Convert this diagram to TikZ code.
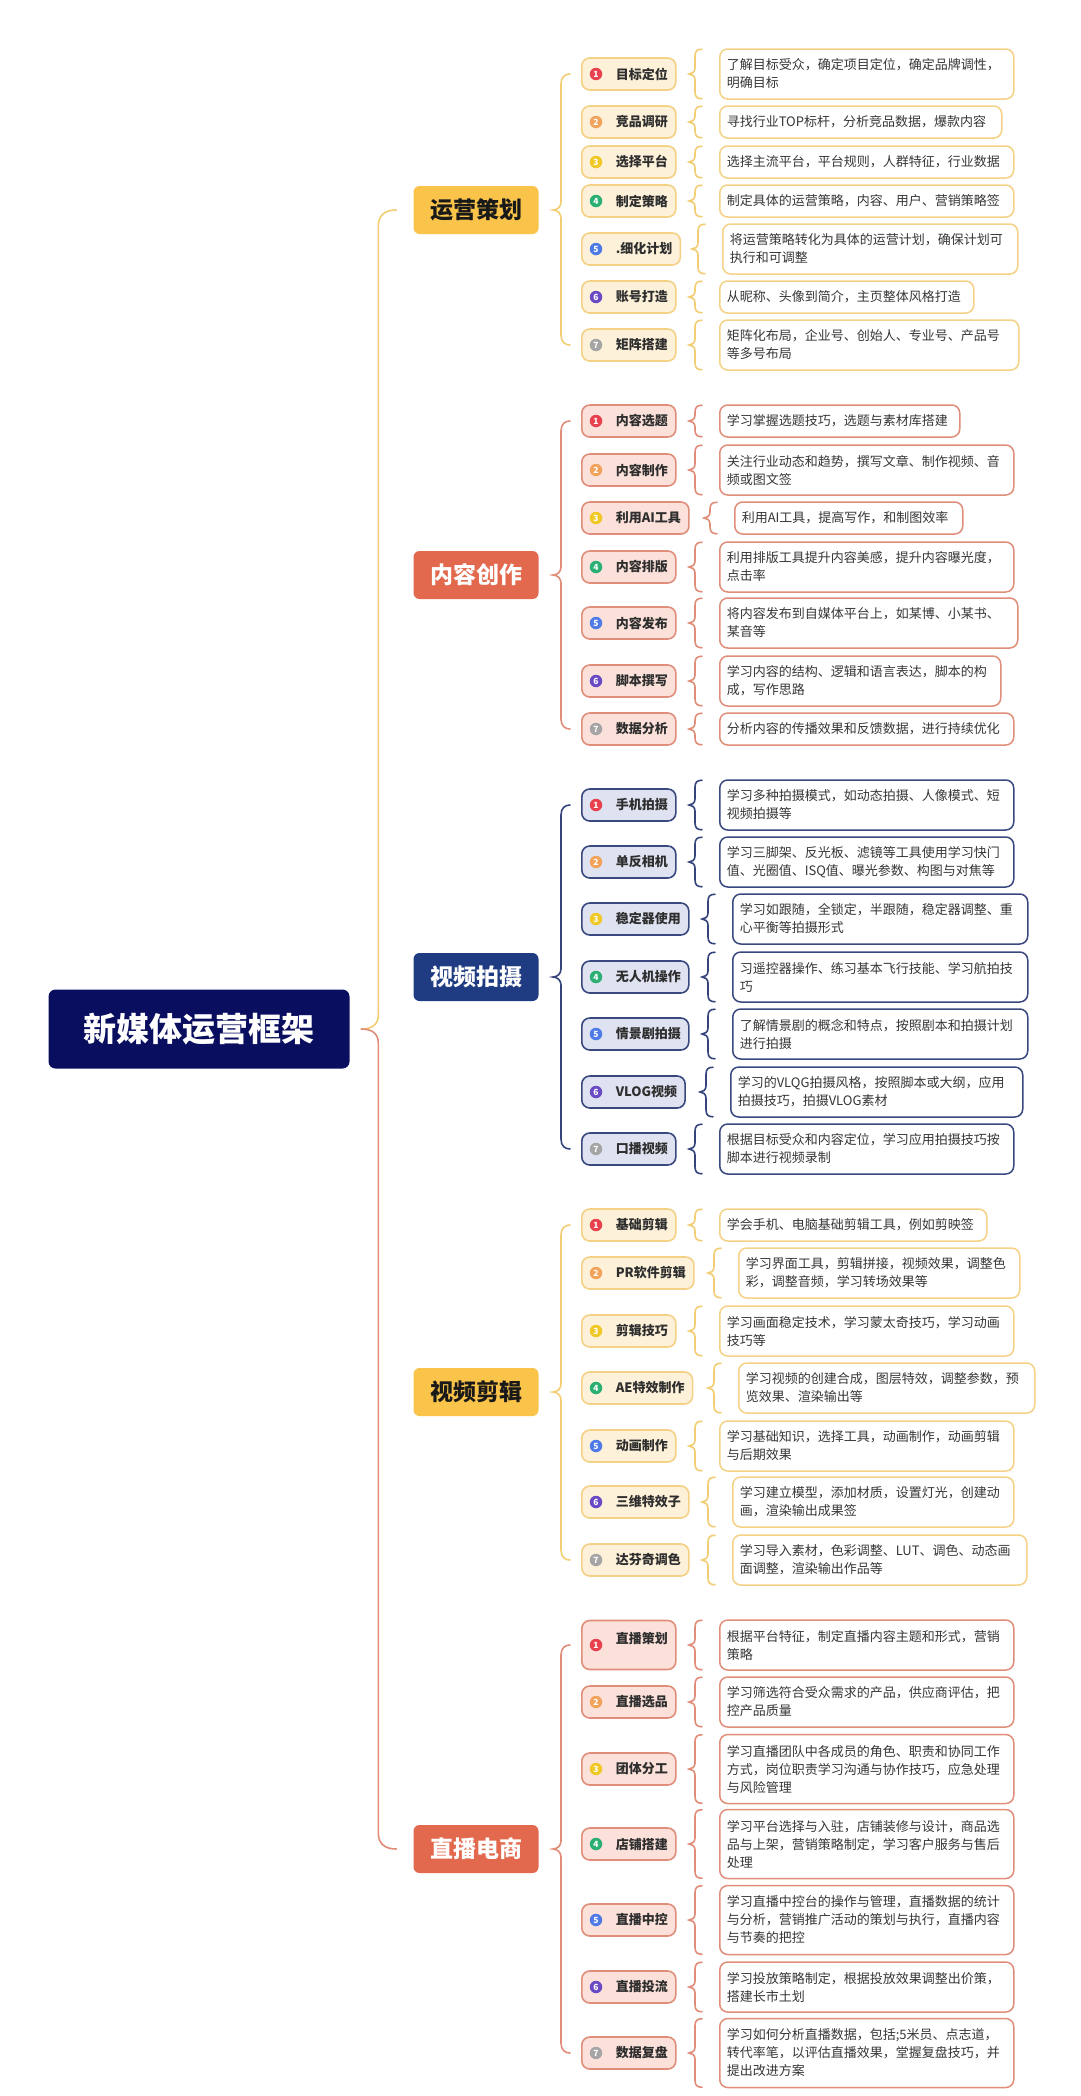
\documentclass[tikz,border=0pt]{standalone}
\usepackage{fontspec}
\setmainfont{Noto Sans CJK SC}
\usetikzlibrary{calc}
\definecolor{rootc}{HTML}{0A0E5E}
\definecolor{ybr}{HTML}{FAC44B}
\definecolor{yln}{HTML}{F3CD72}
\definecolor{yif}{HTML}{FDF1D9}
\definecolor{yib}{HTML}{F4D184}
\definecolor{sbr}{HTML}{E3694E}
\definecolor{sln}{HTML}{E08C78}
\definecolor{sif}{HTML}{FBE1DA}
\definecolor{sib}{HTML}{E08E7A}
\definecolor{nbr}{HTML}{1F3C82}
\definecolor{nln}{HTML}{36447C}
\definecolor{nif}{HTML}{DFE3F1}
\definecolor{nib}{HTML}{3A4880}
\definecolor{labc}{HTML}{2E2E2E}
\definecolor{descc}{HTML}{363636}
\definecolor{n1}{HTML}{E8424F}
\definecolor{n2}{HTML}{F2A45C}
\definecolor{n3}{HTML}{F0C828}
\definecolor{n4}{HTML}{2BAF73}
\definecolor{n5}{HTML}{4E7BE5}
\definecolor{n6}{HTML}{6B4BC4}
\definecolor{n7}{HTML}{A5A5A5}
\tikzset{
  rootbox/.style={rounded corners=7, fill=rootc, text=white, minimum width=301, minimum height=79, inner sep=0,
    font=\fontsize{33}{36}\selectfont\bfseries},
  brbox/.style={rounded corners=6, minimum width=125, minimum height=48, inner sep=0,
    font=\fontsize{23}{26}\selectfont\bfseries},
  ybr/.style={brbox, fill=ybr, text=black!90},
  sbr/.style={brbox, fill=sbr, text=white},
  nbr/.style={brbox, fill=nbr, text=white},
  itembox/.style={rounded corners=8, line width=1.6, minimum height=32, inner xsep=8, inner ysep=2,
    anchor=west, text=labc, font=\fontsize{13}{15}\selectfont\bfseries},
  yit/.style={itembox, draw=yib, fill=yif},
  sit/.style={itembox, draw=sib, fill=sif},
  nit/.style={itembox, draw=nib, fill=nif},
  num/.style={circle, minimum size=12.5, inner sep=0, text=white, font=\fontsize{8.5}{9}\selectfont\bfseries},
  desc/.style={rounded corners=8, line width=1.5, fill=white, anchor=west, align=left, inner xsep=7,
    inner ysep=3, text=descc, font=\fontsize{13}{18}\selectfont},
  yd/.style={desc, draw=yib},
  sd/.style={desc, draw=sib},
  nd/.style={desc, draw=nib},
  brl/.style={line width=1.6, line cap=round},
}
% item: name, style, y, number, label
\newcommand\itm[5]{%
  \node[#2] (#1) at (581,#3) {\hspace*{26pt}#5};
  \node[num, fill=n#4] (#1n) at ([xshift=15pt]#1.west) {#4};
}
% desc: name, style, left, y, text width, min height, text
\newcommand\dsc[7]{%
  \node[#2, text width=#5pt, minimum height=#6pt] (#1) at (#3,#4) {#7};
}
% small brace: desc node, item node, colour
\newcommand\dbr[3]{%
  \draw[brl, #3] let \p1=(#2.east), \p2=(#1.north west), \p3=(#1.south west) in
  (\x2-17,\y2-1) .. controls (\x2-22,\y2-1) and (\x2-24,\y2-3) .. (\x2-24,\y2-8)
  -- (\x2-24,\y1+6) .. controls (\x2-24,\y1+2) and (\x2-27,\y1) .. (\x2-30,\y1)
  .. controls (\x2-27,\y1) and (\x2-24,\y1-2) .. (\x2-24,\y1-6)
  -- (\x2-24,\y3+8) .. controls (\x2-24,\y3+3) and (\x2-22,\y3+1) .. (\x2-17,\y3+1);
}
% big brace: branch, first item, last item, colour
\newcommand\bbr[4]{%
  \draw[brl, #4] let \p1=(#1.east), \p2=(#2.west), \p3=(#3.west) in
  (\x2-11,\y2) .. controls (\x2-16,\y2) and (\x2-20,\y2-3) .. (\x2-20,\y2-10)
  -- (\x2-20,\y1+8) .. controls (\x2-20,\y1+3) and (\x2-24,\y1) .. (\x2-28,\y1)
  .. controls (\x2-24,\y1) and (\x2-20,\y1-3) .. (\x2-20,\y1-8)
  -- (\x2-20,\y3+10) .. controls (\x2-20,\y3+3) and (\x2-16,\y3) .. (\x2-11,\y3);
}
\begin{document}
\begin{tikzpicture}[x=1pt,y=-1pt]
\fill[white] (0,0) rectangle (1080,2096);
\useasboundingbox (0,0) rectangle (1080,2096);

\node[rootbox] (root) at (199,1029) {新媒体运营框架};
\node[ybr] (b1) at (476,210) {运营策划};
\node[sbr] (b2) at (476,575) {内容创作};
\node[nbr] (b3) at (476,977) {视频拍摄};
\node[ybr] (b4) at (476,1392) {视频剪辑};
\node[sbr] (b5) at (476,1849) {直播电商};

% trunk brace
\draw[brl, yln] let \p1=(root.east), \p2=(b1.west) in
  (\x2-17,\y2) .. controls (\x2-28,\y2) and (\x2-35,\y2-5) .. (\x2-35,\y2-16)
  -- (\x2-35,\y1+14) .. controls (\x2-35,\y1+4) and (\x2-42,\y1) .. (\x2-52,\y1);
\draw[brl, sln] let \p1=(root.east), \p2=(b5.west) in
  (\x2-52,\y1) .. controls (\x2-42,\y1) and (\x2-35,\y1-4) .. (\x2-35,\y1-14)
  -- (\x2-35,\y2+16) .. controls (\x2-35,\y2+5) and (\x2-28,\y2) .. (\x2-17,\y2);

% ===== 运营策划 =====
\itm{a1}{yit}{74}{1}{目标定位}
\itm{a2}{yit}{122}{2}{竞品调研}
\itm{a3}{yit}{162}{3}{选择平台}
\itm{a4}{yit}{201}{4}{制定策略}
\itm{a5}{yit}{249}{5}{.细化计划}
\itm{a6}{yit}{297}{6}{账号打造}
\itm{a7}{yit}{345}{7}{矩阵搭建}
\dsc{ad1}{yd}{719}{74}{280}{50}{了解目标受众，确定项目定位，确定品牌调性，\\明确目标}
\dsc{ad2}{yd}{719}{122}{268}{32}{寻找行业TOP标杆，分析竞品数据，爆款内容}
\dsc{ad3}{yd}{719}{162}{280}{32}{选择主流平台，平台规则，人群特征，行业数据}
\dsc{ad4}{yd}{719}{201}{280}{32}{制定具体的运营策略，内容、用户、营销策略签}
\dsc{ad5}{yd}{722}{249}{281}{50}{将运营策略转化为具体的运营计划，确保计划可\\执行和可调整}
\dsc{ad6}{yd}{719}{297}{240}{32}{从昵称、头像到简介，主页整体风格打造}
\dsc{ad7}{yd}{719}{345}{285}{50}{矩阵化布局，企业号、创始人、专业号、产品号\\等多号布局}
\bbr{b1}{a1}{a7}{yln}
\dbr{ad1}{a1}{yln}\dbr{ad2}{a2}{yln}\dbr{ad3}{a3}{yln}\dbr{ad4}{a4}{yln}
\dbr{ad5}{a5}{yln}\dbr{ad6}{a6}{yln}\dbr{ad7}{a7}{yln}

% ===== 内容创作 =====
\itm{c1}{sit}{421}{1}{内容选题}
\itm{c2}{sit}{470}{2}{内容制作}
\itm{c3}{sit}{518}{3}{利用AI工具}
\itm{c4}{sit}{567}{4}{内容排版}
\itm{c5}{sit}{623}{5}{内容发布}
\itm{c6}{sit}{681}{6}{脚本撰写}
\itm{c7}{sit}{729}{7}{数据分析}
\dsc{cd1}{sd}{719}{421}{226}{32}{学习掌握选题技巧，选题与素材库搭建}
\dsc{cd2}{sd}{719}{470}{280}{50}{关注行业动态和趋势，撰写文章、制作视频、音\\频或图文签}
\dsc{cd3}{sd}{734}{518}{214}{32}{利用AI工具，提高写作，和制图效率}
\dsc{cd4}{sd}{719}{567}{280}{50}{利用排版工具提升内容美感，提升内容曝光度，\\点击率}
\dsc{cd5}{sd}{719}{623}{284}{50}{将内容发布到自媒体平台上，如某博、小某书、\\某音等}
\dsc{cd6}{sd}{719}{681}{267}{50}{学习内容的结构、逻辑和语言表达，脚本的构\\成，写作思路}
\dsc{cd7}{sd}{719}{729}{280}{32}{分析内容的传播效果和反馈数据，进行持续优化}
\bbr{b2}{c1}{c7}{sln}
\dbr{cd1}{c1}{sln}\dbr{cd2}{c2}{sln}\dbr{cd3}{c3}{sln}\dbr{cd4}{c4}{sln}
\dbr{cd5}{c5}{sln}\dbr{cd6}{c6}{sln}\dbr{cd7}{c7}{sln}

% ===== 视频拍摄 =====
\itm{v1}{nit}{805}{1}{手机拍摄}
\itm{v2}{nit}{862}{2}{单反相机}
\itm{v3}{nit}{919}{3}{稳定器使用}
\itm{v4}{nit}{977}{4}{无人机操作}
\itm{v5}{nit}{1034}{5}{情景剧拍摄}
\itm{v6}{nit}{1092}{6}{VLOG视频}
\itm{v7}{nit}{1149}{7}{口播视频}
\dsc{vd1}{nd}{719}{805}{280}{50}{学习多种拍摄模式，如动态拍摄、人像模式、短\\视频拍摄等}
\dsc{vd2}{nd}{719}{862}{280}{50}{学习三脚架、反光板、滤镜等工具使用学习快门\\值、光圈值、ISQ值、曝光参数、构图与对焦等}
\dsc{vd3}{nd}{732}{919}{281}{50}{学习如跟随，全锁定，半跟随，稳定器调整、重\\心平衡等拍摄形式}
\dsc{vd4}{nd}{732}{977}{281}{50}{习遥控器操作、练习基本飞行技能、学习航拍技\\巧}
\dsc{vd5}{nd}{732}{1034}{281}{50}{了解情景剧的概念和特点，按照剧本和拍摄计划\\进行拍摄}
\dsc{vd6}{nd}{730}{1092}{278}{50}{学习的VLQG拍摄风格，按照脚本或大纲，应用\\拍摄技巧，拍摄VLOG素材}
\dsc{vd7}{nd}{719}{1149}{280}{50}{根据目标受众和内容定位，学习应用拍摄技巧按\\脚本进行视频录制}
\bbr{b3}{v1}{v7}{nln}
\dbr{vd1}{v1}{nln}\dbr{vd2}{v2}{nln}\dbr{vd3}{v3}{nln}\dbr{vd4}{v4}{nln}
\dbr{vd5}{v5}{nln}\dbr{vd6}{v6}{nln}\dbr{vd7}{v7}{nln}

% ===== 视频剪辑 =====
\itm{e1}{yit}{1225}{1}{基础剪辑}
\itm{e2}{yit}{1273}{2}{PR软件剪辑}
\itm{e3}{yit}{1331}{3}{剪辑技巧}
\itm{e4}{yit}{1388}{4}{AE特效制作}
\itm{e5}{yit}{1446}{5}{动画制作}
\itm{e6}{yit}{1502}{6}{三维特效子}
\itm{e7}{yit}{1560}{7}{达芬奇调色}
\dsc{ed1}{yd}{719}{1225}{253}{32}{学会手机、电脑基础剪辑工具，例如剪映签}
\dsc{ed2}{yd}{738}{1273}{267}{50}{学习界面工具，剪辑拼接，视频效果，调整色\\彩，调整音频，学习转场效果等}
\dsc{ed3}{yd}{719}{1331}{280}{50}{学习画面稳定技术，学习蒙太奇技巧，学习动画\\技巧等}
\dsc{ed4}{yd}{738}{1388}{282}{50}{学习视频的创建合成，图层特效，调整参数，预\\览效果、渲染输出等}
\dsc{ed5}{yd}{719}{1446}{280}{50}{学习基础知识，选择工具，动画制作，动画剪辑\\与后期效果}
\dsc{ed6}{yd}{732}{1502}{267}{50}{学习建立模型，添加材质，设置灯光，创建动\\画，渲染输出成果签}
\dsc{ed7}{yd}{732}{1560}{280}{50}{学习导入素材，色彩调整、LUT、调色、动态画\\面调整，渲染输出作品等}
\bbr{b4}{e1}{e7}{yln}
\dbr{ed1}{e1}{yln}\dbr{ed2}{e2}{yln}\dbr{ed3}{e3}{yln}\dbr{ed4}{e4}{yln}
\dbr{ed5}{e5}{yln}\dbr{ed6}{e6}{yln}\dbr{ed7}{e7}{yln}

% ===== 直播电商 =====
\node[sit, minimum height=49] (l1) at (581,1645) {\hspace*{26pt}\raisebox{2pt}[0pt][0pt]{直播策划}};
\node[num, fill=n1] (l1n) at ([xshift=15pt]l1.west) {1};
\itm{l2}{sit}{1702}{2}{直播选品}
\itm{l3}{sit}{1769}{3}{团体分工}
\itm{l4}{sit}{1844}{4}{店铺搭建}
\itm{l5}{sit}{1920}{5}{直播中控}
\itm{l6}{sit}{1987}{6}{直播投流}
\itm{l7}{sit}{2053}{7}{数据复盘}
\dsc{ld1}{sd}{719}{1645}{280}{50}{根据平台特征，制定直播内容主题和形式，营销\\策略}
\dsc{ld2}{sd}{719}{1702}{280}{50}{学习筛选符合受众需求的产品，供应商评估，把\\控产品质量}
\dsc{ld3}{sd}{719}{1769}{280}{69}{学习直播团队中各成员的角色、职责和协同工作\\方式，岗位职责学习沟通与协作技巧，应急处理\\与风险管理}
\dsc{ld4}{sd}{719}{1844}{280}{69}{学习平台选择与入驻，店铺装修与设计，商品选\\品与上架，营销策略制定，学习客户服务与售后\\处理}
\dsc{ld5}{sd}{719}{1920}{280}{69}{学习直播中控台的操作与管理，直播数据的统计\\与分析，营销推广活动的策划与执行，直播内容\\与节奏的把控}
\dsc{ld6}{sd}{719}{1987}{280}{50}{学习投放策略制定，根据投放效果调整出价策，\\搭建长市土划}
\dsc{ld7}{sd}{719}{2053}{280}{69}{学习如何分析直播数据，包括;5米员、点志道，\\转代率笔，以评估直播效果，堂握复盘技巧，并\\提出改进方案}
\bbr{b5}{l1}{l7}{sln}
\dbr{ld1}{l1}{sln}\dbr{ld2}{l2}{sln}\dbr{ld3}{l3}{sln}\dbr{ld4}{l4}{sln}
\dbr{ld5}{l5}{sln}\dbr{ld6}{l6}{sln}\dbr{ld7}{l7}{sln}
\end{tikzpicture}
\end{document}
